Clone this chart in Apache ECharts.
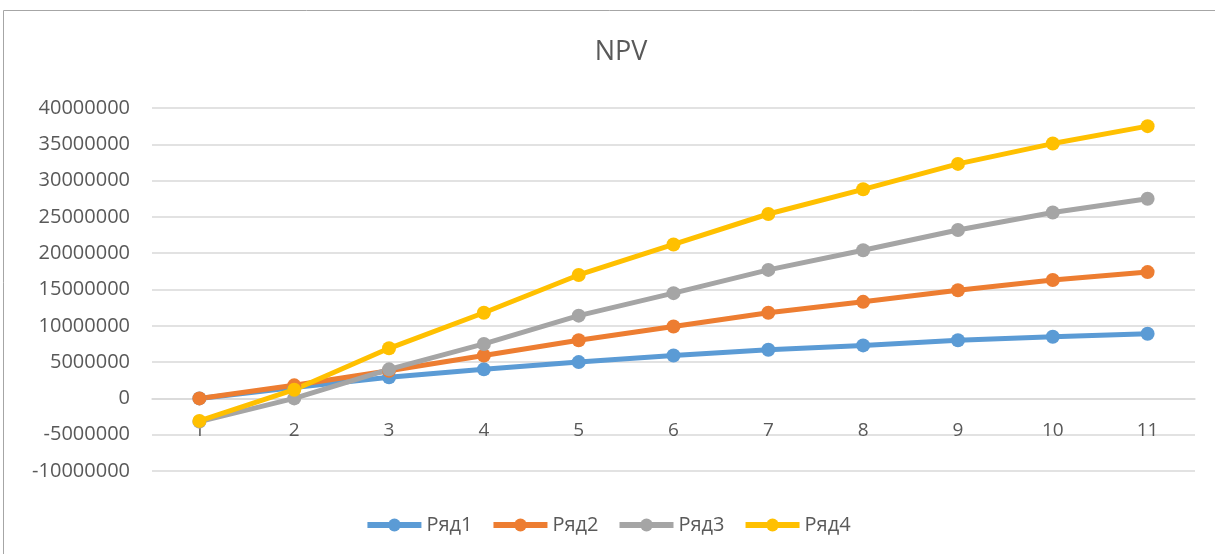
<!DOCTYPE html>
<html>
<head>
<meta charset="utf-8">
<script src="https://cdn.jsdelivr.net/npm/echarts@6/dist/echarts.min.js"></script>
<style>
  html, body { margin: 0; padding: 0; background: #fff; }
  #chart { width: 1215px; height: 554px; }
</style>
</head>
<body>
<div id="chart"></div>
<script>
// данные графика NPV
const periods = ['1', '2', '3', '4', '5', '6', '7', '8', '9', '10', '11'];
const row1 = [0, 1500000, 2900000, 4000000, 5000000, 5900000, 6700000, 7300000, 8000000, 8500000, 8900000];
const row2 = [0, 1800000, 3800000, 5900000, 8000000, 9900000, 11800000, 13300000, 14900000, 16300000, 17400000];
const row3 = [-3200000, 0, 4000000, 7500000, 11400000, 14500000, 17700000, 20400000, 23200000, 25600000, 27500000];
const row4 = [-3100000, 1200000, 6900000, 11800000, 17000000, 21200000, 25400000, 28800000, 32300000, 35100000, 37500000];
const seriesNames = ['Ряд1', 'Ряд2', 'Ряд3', 'Ряд4'];
const colors = ['#5b9bd5', '#ed7d31', '#a5a5a5', '#ffc000'];
const yMin = -10000000, yMax = 40000000;

const chart = echarts.init(document.getElementById('chart'));

const textColor = '#595959';
const font = '"Open Sans", "Liberation Sans", sans-serif';
const gridTop = 108, gridBottom = 83;
// ось X лежит на нуле — сдвигаем её вверх от низа сетки
const plotH = 554 - gridTop - gridBottom;
const zeroOffset = -plotH * (0 - yMin) / (yMax - yMin);

function makeSeries(name, data, i) {
    return {
        name: name,
        type: 'line',
        data: data,
        symbol: 'circle',
        symbolSize: 14,
        lineStyle: { width: 5, color: colors[i] },
        itemStyle: { color: colors[i] },
        animation: false
    };
}

chart.setOption({
    color: colors,
    title: {
        text: 'NPV',
        left: 616,
        top: 34,
        textAlign: 'center',
        textStyle: { fontFamily: font, fontSize: 27, fontWeight: 'normal', color: textColor }
    },
    graphic: [{
        type: 'rect',
        shape: { x: 3.5, y: 10.5, width: 1300, height: 600 },
        style: { fill: 'none', stroke: '#a6a6a6', lineWidth: 1 },
        silent: true
    }],
    legend: {
        data: seriesNames,
        left: 'center',
        top: 510,
        itemWidth: 54,
        itemHeight: 16,
        itemGap: 18,
        lineStyle: { width: 6 },
        textStyle: { fontFamily: font, fontSize: 20, color: textColor }
    },
    grid: { left: 152, right: 20, top: gridTop, bottom: gridBottom },
    xAxis: {
        type: 'category',
        data: periods,
        boundaryGap: true,
        offset: zeroOffset,
        axisLine: { onZero: false, lineStyle: { color: '#d9d9d9', width: 1.5 } },
        axisTick: { show: false },
        axisLabel: { fontFamily: font, fontSize: 19, color: textColor, margin: 23 }
    },
    yAxis: {
        type: 'value',
        min: yMin,
        max: yMax,
        interval: 5000000,
        axisLine: { show: false },
        axisTick: { show: false },
        splitLine: { lineStyle: { color: '#d9d9d9', width: 1.5 } },
        axisLabel: { fontFamily: font, fontSize: 20, color: textColor, margin: 22, formatter: v => String(v) }
    },
    series: [row1, row2, row3, row4].map((d, i) => makeSeries(seriesNames[i], d, i))
});
</script>
</body>
</html>
